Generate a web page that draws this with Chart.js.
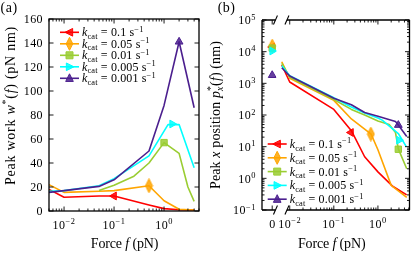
<!DOCTYPE html>
<html><head><meta charset="utf-8">
<script src="https://cdn.jsdelivr.net/npm/chart.js@4.4.1/dist/chart.umd.min.js"></script>
<style>
html,body{margin:0;padding:0;background:#fff;}
#wrap{position:relative;width:415px;height:253px;overflow:hidden;background:#fff;}
#ca{position:absolute;left:0;top:0;}
#cb{position:absolute;left:207px;top:0;}
</style></head><body>
<div id="wrap"><canvas id="ca" width="207" height="253"></canvas><canvas id="cb" width="208" height="253"></canvas></div>
<script>
// ---------------- DATA ----------------
const kcatLabels = ['0.1', '0.05', '0.01', '0.005', '0.001'];

// Panel (a): peak work w*(f) (pN nm) vs force f (pN)
const fA_k1 = [0.005, 0.01, 0.05, 0.1, 0.5, 1, 2, 4];
const wA_k1 = [18, 11.5, 12.5, 12.5, 5, 2, 1, 0.8];
const fA_k2 = [0.005, 0.01, 0.05, 0.1, 0.5, 1, 2, 4];
const wA_k2 = [22, 15.5, 16.5, 17, 21, 8.5, 1.5, 0.8];
const fA_k3 = [0.05, 0.1, 0.25, 0.5, 1, 2, 3, 4];
const wA_k3 = [17, 21.5, 29, 40, 57, 48, 20, 8];
const fA_k4 = [0.005, 0.01, 0.05, 0.1, 0.5, 1.2, 2, 4];
const wA_k4 = [16.5, 17, 21, 27, 46, 72, 72, 36];
const fA_k5 = [0.005, 0.01, 0.05, 0.1, 0.5, 1, 2, 4];
const wA_k5 = [15.5, 17, 20.5, 26, 50, 88, 141, 86];
// marker (peak) positions in panel (a)
const markFA = [0.1, 0.5, 1, 1.45, 2];
const markWA = [12.5, 21, 57, 72.5, 141];

// Panel (b): peak x position p_x*(f) (nm) vs force f (pN)
const fB_k1 = [0.0066, 0.01, 0.1, 0.25, 0.5, 1, 2.2, 4.5];
const pB_k1 = [3800, 1100, 150, 32, 4.8, 1.6, 0.55, 0.3];
const fB_k2 = [0.0066, 0.01, 0.1, 0.25, 0.5, 0.7, 1, 2, 4.5];
const pB_k2 = [4800, 1450, 290, 75, 36, 25, 8, 0.6, 0.25];
const fB_k3 = [0.0066, 0.01, 0.1, 0.25, 0.5, 1, 1.8, 2.5, 2.9, 4.5];
const pB_k3 = [4300, 1550, 310, 150, 100, 65, 50, 28, 8.5, 2];
const fB_k4 = [0.0066, 0.01, 0.1, 0.25, 0.5, 1, 1.25, 2.9, 4.4];
const pB_k4 = [3600, 1750, 350, 180, 115, 80, 69, 26, 10];
const fB_k5 = [0.0066, 0.01, 0.1, 0.25, 0.5, 1, 2.5, 2.9, 4.5];
const pB_k5 = [3100, 1700, 340, 210, 120, 92, 62, 48, 21];
// marker (peak) positions in panel (b)
const markFB = [0.245, 0.69, 2.9, 3.0, 2.9];
const markPB = [28, 25, 8.3, 16, 48];
// values at f = 0 (broken axis section)
const zeroPB = [14000, 15000, 13000, 10500, 1800];

// tick labels
const yTicksA = [0, 20, 40, 60, 80, 100, 120, 140, 160];
const xTickExpA = [-2, -1, 0];
const xTickExpB = [-2, -1, 0];
const yTickExpB = [-1, 0, 1, 2, 3, 4, 5];

// ---------------- STYLE ----------------
const COLORS = ['#ff0000', '#ffa500', '#9acd32', '#00ffff', '#4b1f8e'];
const FONT = '"Liberation Serif","Times New Roman",serif';
const TICK_SIZE = 12, LABEL_SIZE = 14;

function fnt(size, italic) { return (italic ? 'italic ' : '') + size.toFixed(2) + 'px ' + FONT; }
function layoutParts(ctx, parts, size, sp) {
  const items = []; let w = 0;
  for (const p of parts) {
    const t = p[0], s = p[1];
    let f = fnt(size, false), dy = 0, adv = true;
    if (s === 'i') f = fnt(size, true);
    else if (s === 'sup') { f = fnt(size * 0.7, false); dy = -size * 0.38; }
    else if (s === 'sub') { f = fnt(size * 0.7, false); dy = size * 0.22; }
    else if (s === 'subk') { f = fnt(size * 0.7, true); dy = size * 0.25; adv = false; }
    ctx.font = f;
    const chars = [];
    let cw = 0;
    for (const ch of t) { chars.push({ ch, x: cw }); cw += ctx.measureText(ch).width + sp; }
    items.push({ chars, f, dy, x: w });
    if (adv) w += cw;
  }
  return { items, w };
}
function drawRich(ctx, parts, x, y, size, align, sp) {
  sp = sp || 0;
  const L = layoutParts(ctx, parts, size, sp);
  const x0 = align === 'center' ? x - L.w / 2 : align === 'right' ? x - L.w : x;
  ctx.fillStyle = '#000'; ctx.textAlign = 'left'; ctx.textBaseline = 'alphabetic';
  for (const it of L.items) {
    ctx.font = it.f;
    if (sp === 0) { ctx.fillText(it.chars.map(c => c.ch).join(''), x0 + it.x, y + it.dy); }
    else for (const c of it.chars) ctx.fillText(c.ch, x0 + it.x + c.x, y + it.dy);
  }
}
// draw with letter spacing chosen so that the whole label spans `target` px
function drawFit(ctx, parts, x, y, size, target) {
  const w0 = layoutParts(ctx, parts, size, 0).w;
  let n = 0; parts.forEach(p => { if (p[1] !== 'subk') n += [...p[0]].length; });
  drawRich(ctx, parts, x, y, size, 'center', (target - w0) / n);
}
function powParts(e) { return [['10', 'r'], [(e < 0 ? '\u2212' : '') + Math.abs(e), 'sup']]; }

function hexA(hex, a) {
  const n = parseInt(hex.slice(1), 16);
  return 'rgba(' + (n >> 16) + ',' + ((n >> 8) & 255) + ',' + (n & 255) + ',' + a + ')';
}
function thinDiamond(color) {
  const c = document.createElement('canvas'); c.width = 9; c.height = 15;
  const g = c.getContext('2d');
  g.beginPath(); g.moveTo(4.5, 0.5); g.lineTo(8, 7.5); g.lineTo(4.5, 14.5); g.lineTo(1, 7.5); g.closePath();
  g.fillStyle = hexA(color, 0.85); g.fill(); g.strokeStyle = color; g.lineWidth = 1; g.stroke();
  return c;
}
const MARKERS = [
  { pointStyle: 'triangle', rotation: 270 },
  { pointStyle: thinDiamond(COLORS[1]), rotation: 0 },
  { pointStyle: 'rect', rotation: 0 },
  { pointStyle: 'triangle', rotation: 90 },
  { pointStyle: 'triangle', rotation: 0 }
];
function drawLegendMarker(ctx, i, x, y) {
  const c = COLORS[i];
  ctx.save(); ctx.fillStyle = hexA(c, 0.85); ctx.strokeStyle = c; ctx.lineWidth = 1;
  ctx.beginPath();
  const r = 4.5;
  if (i === 0) { ctx.moveTo(x - r, y); ctx.lineTo(x + r * 0.7, y - r * 0.85); ctx.lineTo(x + r * 0.7, y + r * 0.85); }
  else if (i === 1) { ctx.moveTo(x, y - 6.5); ctx.lineTo(x + 3.3, y); ctx.lineTo(x, y + 6.5); ctx.lineTo(x - 3.3, y); }
  else if (i === 2) { ctx.rect(x - 3.5, y - 3.5, 7, 7); }
  else if (i === 3) { ctx.moveTo(x + r, y); ctx.lineTo(x - r * 0.7, y - r * 0.85); ctx.lineTo(x - r * 0.7, y + r * 0.85); }
  else { ctx.moveTo(x, y - r); ctx.lineTo(x + r * 0.85, y + r * 0.7); ctx.lineTo(x - r * 0.85, y + r * 0.7); }
  ctx.closePath(); ctx.fill(); ctx.stroke(); ctx.restore();
}
function drawLegend(ctx, x0, y0, dy) {
  for (let i = 0; i < 5; i++) {
    const y = y0 + i * dy;
    ctx.save(); ctx.strokeStyle = COLORS[i]; ctx.lineWidth = 1.6;
    ctx.beginPath(); ctx.moveTo(x0, y); ctx.lineTo(x0 + 19, y); ctx.stroke(); ctx.restore();
    drawLegendMarker(ctx, i, x0 + 9.5, y);
    drawRich(ctx, [['k', 'i'], ['cat', 'sub'], [' = ' + kcatLabels[i] + ' s', 'r'], ['\u22121', 'sup']], x0 + 22, y + 4, TICK_SIZE, 'left', 0.15);
  }
}
function logVals(lo, hi) {
  const major = [], minor = [];
  for (let e = -4; e <= 6; e++) for (let m = 1; m <= 9; m++) {
    const v = m * Math.pow(10, e);
    if (v >= lo * 0.9999 && v <= hi * 1.0001) (m === 1 ? major : minor).push(v);
  }
  return { major, minor };
}
function tickX(ctx, sc, a, v, len) {
  const px = sc.getPixelForValue(v);
  ctx.beginPath(); ctx.moveTo(px, a.bottom); ctx.lineTo(px, a.bottom - len);
  ctx.moveTo(px, a.top); ctx.lineTo(px, a.top + len); ctx.stroke();
}
function tickY(ctx, sc, a, v, len) {
  const py = sc.getPixelForValue(v);
  ctx.beginPath(); ctx.moveTo(a.left, py); ctx.lineTo(a.left + len, py);
  ctx.moveTo(a.right, py); ctx.lineTo(a.right - len, py); ctx.stroke();
}
const MAJ = 4.5, MIN = 2.5;

function decoA(chart) {
  const ctx = chart.ctx, a = chart.chartArea, xs = chart.scales.x, ys = chart.scales.y;
  ctx.save();
  ctx.strokeStyle = '#000'; ctx.lineWidth = 0.9;
  const lv = logVals(xs.min, xs.max);
  lv.major.forEach(v => tickX(ctx, xs, a, v, MAJ));
  lv.minor.forEach(v => tickX(ctx, xs, a, v, MIN));
  yTicksA.forEach(v => tickY(ctx, ys, a, v, MAJ));
  ctx.lineWidth = 1.3;
  ctx.strokeRect(a.left, a.top, a.right - a.left, a.bottom - a.top);
  yTicksA.forEach(v => drawRich(ctx, [[String(v), 'r']], a.left - 6, ys.getPixelForValue(v) + 4.2, TICK_SIZE, 'right', 0.4));
  xTickExpA.forEach(e => drawRich(ctx, powParts(e), xs.getPixelForValue(Math.pow(10, e)), a.bottom + 18, TICK_SIZE, 'center', 0.5));
  drawFit(ctx, [['Force ', 'r'], ['f', 'i'], [' (pN)', 'r']], 124.5, 248, LABEL_SIZE, 67.5);
  ctx.save(); ctx.translate(14.5, 105.5); ctx.rotate(-Math.PI / 2);
  drawFit(ctx, [['Peak work ', 'r'], ['w', 'i'], ['*', 'sup'], ['(', 'r'], ['f', 'i'], [')', 'r'], [' (pN nm)', 'r']], 0, 0, LABEL_SIZE, 159);
  ctx.restore();
  drawRich(ctx, [['(a)', 'r']], 0.5, 12, LABEL_SIZE, 'left', 0.5);
  drawLegend(ctx, 60, 32.3, 11.5);
  ctx.restore();
}

function decoB(chart) {
  const ctx = chart.ctx, a = chart.chartArea, xs = chart.scales.x, xz = chart.scales.xz, ys = chart.scales.y;
  ctx.save();
  ctx.strokeStyle = '#000'; ctx.lineWidth = 0.9;
  const lv = logVals(0.01, xs.max);
  lv.major.forEach(v => tickX(ctx, xs, a, v, MAJ));
  lv.minor.forEach(v => tickX(ctx, xs, a, v, MIN));
  tickX(ctx, xz, a, 0, MAJ);
  const ly = logVals(ys.min, ys.max);
  ly.major.forEach(v => tickY(ctx, ys, a, v, MAJ));
  ly.minor.forEach(v => tickY(ctx, ys, a, v, MIN));
  // frame with broken x axis
  ctx.lineWidth = 1.3;
  const b1 = xs.left - 1, b2 = xs.left + 10.5;
  ctx.beginPath();
  ctx.moveTo(a.left, a.top); ctx.lineTo(a.left, a.bottom);
  ctx.moveTo(a.right, a.top); ctx.lineTo(a.right, a.bottom);
  ctx.moveTo(a.left, a.top); ctx.lineTo(b1, a.top);
  ctx.moveTo(b2, a.top); ctx.lineTo(a.right, a.top);
  ctx.moveTo(a.left, a.bottom); ctx.lineTo(b1, a.bottom);
  ctx.moveTo(b2, a.bottom); ctx.lineTo(a.right, a.bottom);
  ctx.stroke();
  ctx.lineWidth = 1.1;
  [a.top, a.bottom].forEach(yy => [b1, b2].forEach(bx => {
    ctx.beginPath(); ctx.moveTo(bx - 2, yy + 4.5); ctx.lineTo(bx + 2, yy - 4.5); ctx.stroke();
  }));
  yTickExpB.forEach(e => drawRich(ctx, powParts(e), a.left - 6, ys.getPixelForValue(Math.pow(10, e)) + 4.2, TICK_SIZE, 'right', 0.5));
  xTickExpB.forEach(e => drawRich(ctx, powParts(e), xs.getPixelForValue(Math.pow(10, e)), a.bottom + 18, TICK_SIZE, 'center', 0.5));
  drawRich(ctx, [['0', 'r']], xz.getPixelForValue(0), a.bottom + 18, TICK_SIZE, 'center');
  drawFit(ctx, [['Force ', 'r'], ['f', 'i'], [' (pN)', 'r']], 124.7, 248, LABEL_SIZE, 67.5);
  ctx.save(); ctx.translate(12.5, 115); ctx.rotate(-Math.PI / 2);
  drawFit(ctx, [['Peak ', 'r'], ['x', 'i'], [' position ', 'r'], ['p', 'i'], ['x', 'subk'], ['*', 'sup'], ['(', 'r'], ['f', 'i'], [')', 'r'], [' (nm)', 'r']], 0, 0, LABEL_SIZE, 148);
  ctx.restore();
  drawRich(ctx, [['(b)', 'r']], 10.7, 12, LABEL_SIZE, 'left', 0.5);
  drawLegend(ctx, 60.7, 144, 13.8);
  ctx.restore();
}

// ---------------- DATASETS ----------------
function pts(fs, vs) { return fs.map((f, i) => ({ x: f, y: vs[i] })); }
function lineDs(i, fs, vs, xAxis) {
  return { label: kcatLabels[i], data: pts(fs, vs), showLine: true, borderColor: COLORS[i], backgroundColor: COLORS[i],
    borderWidth: 1.6, borderJoinStyle: 'round', pointRadius: 0, pointHoverRadius: 0, order: 10 + (4 - i), xAxisID: xAxis, yAxisID: 'y' };
}
function markDs(i, fs, vs, xAxis) {
  return { data: pts(fs, vs), showLine: false, pointStyle: MARKERS[i].pointStyle, rotation: MARKERS[i].rotation,
    pointRadius: 4.5, pointHoverRadius: 4.5, backgroundColor: hexA(COLORS[i], 0.85), borderColor: COLORS[i], borderWidth: 1,
    order: 4 - i, xAxisID: xAxis, yAxisID: 'y' };
}
const fA = [fA_k1, fA_k2, fA_k3, fA_k4, fA_k5], wA = [wA_k1, wA_k2, wA_k3, wA_k4, wA_k5];
const fB = [fB_k1, fB_k2, fB_k3, fB_k4, fB_k5], pB = [pB_k1, pB_k2, pB_k3, pB_k4, pB_k5];
const dsA = [], dsB = [];
for (let i = 0; i < 5; i++) {
  dsA.push(lineDs(i, fA[i], wA[i], 'x'));
  dsA.push(markDs(i, [markFA[i]], [markWA[i]], 'x'));
  dsB.push(lineDs(i, fB[i], pB[i], 'x'));
  dsB.push(markDs(i, [markFB[i]], [markPB[i]], 'x'));
  dsB.push(markDs(i, [0], [zeroPB[i]], 'xz'));
}
const hidden = { ticks: { display: false }, grid: { display: false }, border: { display: false } };
const common = { responsive: false, animation: false, devicePixelRatio: 1, events: [],
  plugins: { legend: { display: false }, tooltip: { enabled: false } } };

new Chart(document.getElementById('ca'), {
  type: 'scatter',
  data: { datasets: dsA },
  options: Object.assign({}, common, {
    layout: { padding: { left: 0, right: 8, top: 19, bottom: 0 } },
    scales: {
      x: Object.assign({ type: 'logarithmic', position: 'bottom', min: 0.005, max: 5, afterFit(s) { s.height = 42; } }, hidden),
      y: Object.assign({ type: 'linear', position: 'left', min: 0, max: 160, afterFit(s) { s.width = 49; } }, hidden)
    }
  }),
  plugins: [{ id: 'decoA', afterDraw: decoA }]
});

new Chart(document.getElementById('cb'), {
  type: 'scatter',
  data: { datasets: dsB },
  options: Object.assign({}, common, {
    layout: { padding: { left: 0, right: 4, top: 20, bottom: 0 } },
    scales: {
      xz: Object.assign({ type: 'linear', position: 'bottom', stack: 'bx', stackWeight: 14.6, min: -1, max: 0.418, afterFit(s) { s.height = 43; } }, hidden),
      x: Object.assign({ type: 'logarithmic', position: 'bottom', stack: 'bx', stackWeight: 134.4, min: 0.005, max: 5.2, afterFit(s) { s.height = 43; } }, hidden),
      y: Object.assign({ type: 'logarithmic', position: 'left', min: 0.1, max: 100000, afterFit(s) { s.width = 55; } }, hidden)
    }
  }),
  plugins: [{ id: 'decoB', afterDraw: decoB }]
});
</script>
</body></html>
